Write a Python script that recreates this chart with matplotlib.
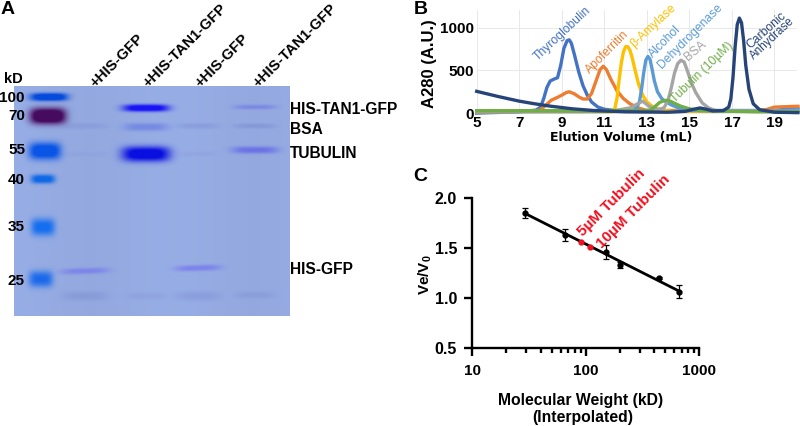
import numpy as np
import matplotlib
matplotlib.use("Agg")
import matplotlib.pyplot as plt

plt.rcParams['font.family'] = ['Liberation Sans', 'DejaVu Sans']
plt.rcParams['mathtext.fontset'] = 'custom'
plt.rcParams['mathtext.bf'] = 'Liberation Sans:bold'
plt.rcParams['mathtext.rm'] = 'Liberation Sans'

# ---- Panel A: gel
ladder_labels = ['100', '70', '55', '40', '35', '25']
ladder_y = [98, 116, 150, 180, 227, 281]
lane_labels = ['+HIS-GFP', '+HIS-TAN1-GFP', '+HIS-GFP', '+HIS-TAN1-GFP']
band_names = ['HIS-TAN1-GFP', 'BSA', 'TUBULIN', 'HIS-GFP']
band_name_y = [110, 130, 154, 270]
band_x = [49, 48, 45, 43, 43, 41, 85, 85, 85, 85, 146, 146, 146, 146, 198, 198, 198, 198, 255, 255, 255, 255]
band_y = [97, 116, 151, 179, 227, 279, 271, 126, 154, 296, 108, 127, 154, 296, 268, 126, 154, 296, 107, 126, 150, 295]
band_hw = [19, 18, 16, 12, 12, 12, 24, 22, 22, 23, 23, 22, 24, 20, 23, 21, 20, 22, 21, 21, 23, 20]
band_hh = [4, 8, 8.5, 4.5, 8.5, 8, 3, 3, 2.5, 4.5, 3.6, 4, 7.5, 3.5, 3, 2.8, 2.5, 4.5, 2.4, 2.4, 3.5, 3.5]
band_amt = [1.3, 1.4, 1.25, 1.15, 1.05, 1.0, .6, .18, .08, .22, 1.2, .55, 1.2, .12, .65, .22, .08, .22, .4, .28, .7, .18]
band_rgb = [(5, 75, 220), (70, 10, 95), (10, 85, 230), (15, 105, 230), (20, 110, 240), (25, 105, 235),
            (110, 110, 240), (100, 110, 200), (100, 100, 200), (100, 110, 200),
            (25, 20, 245), (90, 110, 225), (10, 15, 225), (100, 110, 200),
            (110, 110, 240), (100, 110, 200), (100, 100, 200), (100, 110, 200),
            (90, 90, 235), (100, 110, 200), (90, 90, 235), (100, 110, 200)]

# ---- Panel B: chromatograms
elution_ticks = [5, 7, 9, 11, 13, 15, 17, 19]
a280_ticks = [0, 500, 1000]
thy_x = [5, 7, 7.8, 8.0, 8.15, 8.3, 8.45, 8.6, 8.8, 8.95, 9.1, 9.25, 9.35, 9.45, 9.6, 9.8, 10.0, 10.2, 10.4, 10.7, 11.0, 11.5, 19, 20.1]
thy_y = [0, 15, 35, 70, 170, 300, 375, 395, 415, 560, 760, 850, 860, 820, 680, 480, 320, 210, 130, 70, 45, 30, 30, 60]
apo_x = [5, 7.8, 8.0, 8.2, 8.5, 8.8, 9.0, 9.2, 9.35, 9.6, 9.8, 10.0, 10.2, 10.4, 10.6, 10.8, 10.95, 11.1, 11.3, 11.6, 11.9, 12.2, 12.6, 13, 18, 18.6, 19, 20.1]
apo_y = [10, 25, 40, 80, 150, 185, 210, 240, 250, 225, 190, 165, 165, 230, 370, 510, 550, 510, 400, 260, 170, 110, 60, 30, 20, 40, 70, 80]
amy_x = [5, 11.4, 11.5, 11.6, 11.7, 11.8, 11.9, 12.0, 12.1, 12.2, 12.3, 12.45, 12.6, 12.8, 13.0, 13.3, 13.7, 14.2, 20.1]
amy_y = [15, 15, 60, 180, 400, 590, 720, 780, 780, 740, 660, 500, 350, 210, 130, 70, 35, 20, 25]
alc_x = [5, 12.2, 12.5, 12.65, 12.75, 12.85, 12.95, 13.05, 13.15, 13.25, 13.35, 13.5, 13.7, 13.9, 14.2, 14.6, 15, 19, 20.1]
alc_y = [15, 20, 50, 130, 280, 470, 620, 665, 630, 510, 380, 250, 170, 130, 90, 50, 30, 25, 40]
bsa_x = [5, 11.5, 12.2, 12.5, 12.8, 13.1, 13.5, 13.8, 14.0, 14.15, 14.3, 14.45, 14.6, 14.75, 14.9, 15.1, 15.3, 15.6, 15.9, 16.3, 20.1]
bsa_y = [20, 30, 60, 100, 140, 80, 40, 60, 150, 300, 470, 580, 620, 600, 500, 350, 240, 120, 60, 25, 20]
tub_x = [5, 13.0, 13.2, 13.4, 13.6, 13.8, 13.95, 14.1, 14.3, 14.6, 15.0, 15.5, 18.2, 20.1]
tub_y = [28, 28, 40, 80, 125, 145, 150, 140, 115, 80, 50, 28, 15, 15]
car_x = [5, 6, 7, 7.7, 8.5, 9.5, 10.5, 12, 14, 14.8, 15.2, 15.5, 15.8, 16.1, 16.6, 16.85, 16.95, 17.05, 17.15, 17.25, 17.35, 17.45, 17.55, 17.65, 17.8, 18.0, 18.3, 19, 20.1]
car_y = [255, 195, 140, 110, 80, 50, 30, 15, 10, 20, 45, 60, 45, 25, 30, 70, 170, 420, 780, 1040, 1115, 1060, 850, 560, 280, 110, 40, 10, 5]
series_names = ['Thyroglobulin', 'Apoferritin', 'β-Amylase', 'Alcohol', 'Dehydrogenase', 'BSA', 'Tubulin (10µM)', 'Carbonic', 'Anhydrase']
series_cols = ['#4472c4', '#ed7d31', '#ffc000', '#5b9bd5', '#5b9bd5', '#a5a5a5', '#70ad47', '#264478', '#264478']

# ---- Panel C: calibration
mw = [29, 66, 150, 200, 443, 669]
ve_v0 = [1.85, 1.63, 1.46, 1.33, 1.20, 1.065]
ve_err = [0.05, 0.06, 0.07, 0.03, 0.01, 0.065]
fit_mw = [29, 669]
fit_ve = [1.85, 1.07]
tub_mw = [91, 110]
tub_ve = [1.565, 1.51]
tub_names = ['5µM Tubulin', '10µM Tubulin']

W, H = 800, 426
fig = plt.figure(figsize=(W / 100, H / 100), dpi=100)


def axpx(l, t, r, b, **kw):
    return fig.add_axes([l / W, 1 - b / H, (r - l) / W, (b - t) / H], **kw)


# gel image
gx0, gx1, gy0, gy1 = 14, 290, 86, 316
xx, yy = np.meshgrid(np.arange(gx0, gx1) + .5, np.arange(gy0, gy1) + .5)
img = np.ones(xx.shape + (3,)) * np.array([149, 171, 226], float)
img *= (1 + 0.012 * np.cos((xx - 172) / 26))[..., None]
for bx, by, hw, hh, amt, rgb in zip(band_x, band_y, band_hw, band_hh, band_amt, band_rgb):
    tilt = 0
    if by in (271, 268):
        tilt = -0.03 * (xx - bx)
    a = amt * np.exp(-(np.abs((xx - bx) / hw)) ** 4) * np.exp(-(np.abs((yy - by - tilt) / hh)) ** 2.6)
    a = np.minimum(a, 1)
    img = img * (1 - a[..., None]) + np.array(rgb, float) * a[..., None]
ag = axpx(gx0, gy0, gx1, gy1)
ag.imshow(np.clip(img, 0, 255).astype(np.uint8), aspect='auto', interpolation='bilinear')
ag.axis('off')

# Panel B
ab = axpx(476.7, 10, 797, 113.5)
ab.set_xlim(5, 5 + (797 - 476.7) / 21.27)
ab.set_ylim(-5, 1210)
for xs, ys, c in [(thy_x, thy_y, series_cols[0]), (apo_x, apo_y, series_cols[1]), (amy_x, amy_y, series_cols[2]),
                  (alc_x, alc_y, series_cols[3]), (bsa_x, bsa_y, series_cols[5]), (tub_x, tub_y, series_cols[6]),
                  (car_x, car_y, series_cols[7])]:
    ab.plot(xs, ys, color=c, lw=2.4, solid_joinstyle='round', clip_on=False)
ab.set_xticks(elution_ticks)
ab.set_yticks(a280_ticks)
ab.grid(True, color='#e8e8e8', lw=0.7)
ab.set_axisbelow(True)
for s in ab.spines.values():
    s.set_visible(False)
ab.tick_params(length=0, pad=2, labelsize=11)
for t in ab.get_xticklabels() + ab.get_yticklabels():
    t.set_fontweight('bold')

# Panel C
ac = axpx(472.3, 198.3, 699.3, 348.3)
ac.set_xscale('log')
ac.set_xlim(10, 1000)
ac.set_ylim(0.5, 2.0)
ac.plot(fit_mw, fit_ve, color='black', lw=2)
ac.errorbar(mw, ve_v0, yerr=ve_err, fmt='o', color='black', ms=3.5, capsize=2.2, elinewidth=0.9, capthick=0.9)
ac.plot(tub_mw, tub_ve, 'o', color='#f01020', ms=3.5, zorder=5)
ac.set_yticks([0.5, 1.0, 1.5, 2.0])
ac.set_yticklabels(['0.5', '1.0', '1.5', '2.0'], fontweight='bold', fontsize=11.5)
ac.set_xticks([10, 100, 1000])
ac.set_xticklabels(['10', '100', '1000'], fontweight='bold', fontsize=11)
ac.spines['top'].set_visible(False)
ac.spines['right'].set_visible(False)
for s in ('left', 'bottom'):
    ac.spines[s].set_linewidth(1.7)
ac.tick_params(which='major', width=1.7, length=6, pad=5)
ac.tick_params(which='minor', width=1.7, length=3.5, labelbottom=False)

# Overlay for text
ov = fig.add_axes([0, 0, 1, 1], zorder=10)
ov.set_xlim(0, W)
ov.set_ylim(H, 0)
ov.axis('off')
ov.patch.set_alpha(0)


def T(x, y, s, size=9, rot=0, c='black', w='bold', ha='left', va='baseline', **kw):
    ov.text(x, y, s, fontsize=size, rotation=rot, color=c, fontweight=w, ha=ha, va=va,
            rotation_mode='anchor', **kw)


T(1, 14, 'A', 14)
T(414, 14, 'B', 14)
T(413, 181, 'C', 14)

T(4, 83, 'kD', 10.5)
for lab, y in zip(ladder_labels, ladder_y):
    T(25, y + 4, lab, 11, ha='right')
for lab, x0 in zip(lane_labels, [95, 148, 200, 258]):
    T(x0, 88, lab, 10.7, rot=45)
for lab, y in zip(band_names, band_name_y):
    T(290, y + 4, lab, 11.2)

T(434, 108, 'A280 (A.U.)', 12, rot=90)
T(621, 141, 'Elution Volume (mL)', 9, ha='center', family='DejaVu Sans')

name_pos = [(538, 61, 43), (590, 74, 45), (634, 48, 43), (653, 58, 45), (662, 69, 45), (688, 61, 40), (675, 103, 44), (750, 49, 42), (754, 60, 43)]
name_size = [8.7, 8.7, 8.7, 8.7, 8.7, 8.7, 8.7, 8.7, 8.4]
for n, c, (x, y, r), sz in zip(series_names, series_cols, name_pos, name_size):
    T(x, y, n, sz, rot=r, c=c, w='normal')

T(429, 275, 'Ve/V$_{\\mathbf{0}}$', 11, rot=90, ha='center')
T(581, 405, 'Molecular Weight (kD)', 11.3, ha='center')
T(583, 422, '(Interpolated)', 11.3, ha='center')
T(583, 237, tub_names[0], 11, rot=45, c='#f01020')
T(602, 249, tub_names[1], 11, rot=45, c='#f01020')

fig.savefig('out.png', dpi=100)
